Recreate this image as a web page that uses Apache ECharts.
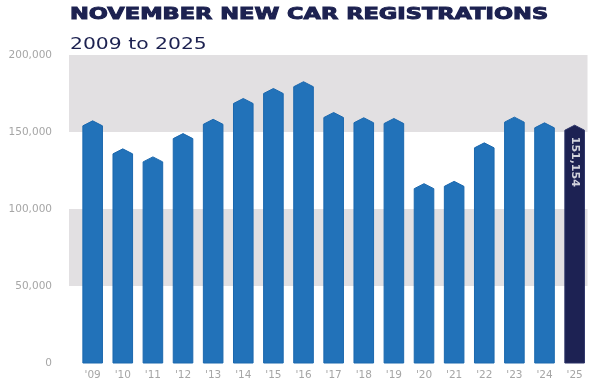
<!DOCTYPE html>
<html>
<head>
<meta charset="utf-8">
<script src="https://cdn.jsdelivr.net/npm/echarts@6/dist/echarts.min.js"></script>
<style>
html,body{margin:0;padding:0;background:#fff;}
#chart{width:600px;height:384px;}
</style>
</head>
<body>
<div id="chart"></div>
<script>
var titleText = 'NOVEMBER NEW CAR REGISTRATIONS';
var subtitleText = '2009 to 2025';
var categories = ["'09","'10","'11","'12","'13","'14","'15","'16","'17","'18","'19","'20","'21","'22","'23","'24","'25"];
var registrations = [154000,135800,130600,145700,155000,168500,175000,179400,159400,156000,155500,113200,114700,139700,156400,152700,151154];
var yMin = 0, yMax = 200000, yStep = 50000;

var chart = echarts.init(document.getElementById('chart'), null, {renderer:'canvas'});
var lastIdx = registrations.length - 1;

function renderBar(params, api) {
  var idx = params.dataIndex;
  var val = api.value(1);
  var top = api.coord([api.value(0), val]);
  var base = api.coord([api.value(0), 0]);
  var band = api.size([1, 0])[0];
  var w = band * 0.65;
  var x = top[0], y = top[1], y0 = base[1];
  var peak = 5;
  var last = idx === lastIdx;
  return {
    type: 'polygon',
    shape: {points: [[x - w/2, y0], [x - w/2, y], [x, y - peak], [x + w/2, y], [x + w/2, y0]]},
    style: {fill: last ? '#1d2253' : '#2272b9', stroke: last ? '#2a3166' : '#1b68ae', lineWidth: 1}
  };
}

var option = {
  backgroundColor: '#ffffff',
  animation: false,
  graphic: [
    {type: 'text', x: 70, y: 15, scaleX: 1.5, style: {text: titleText, font: 'bold 15px "DejaVu Sans"', fill: '#1c2150', stroke: '#1c2150', lineWidth: 0.9, textAlign: 'left', textVerticalAlign: 'middle'}},
    {type: 'text', x: 70, y: 45, scaleX: 1.27, style: {text: subtitleText, font: '16px "DejaVu Sans"', fill: '#1c2150', textAlign: 'left', textVerticalAlign: 'middle'}}
  ],
  grid: [
    {left: 69, right: 12.5, top: 55, bottom: 21},
    {left: 77.6, right: 10.3, top: 55, bottom: 21}
  ],
  xAxis: [
    {type: 'category', gridIndex: 0, data: categories, show: false},
    {type: 'category', gridIndex: 1, data: categories,
     axisLine: {show: false}, axisTick: {show: false},
     axisLabel: {color: '#a6a6a6', fontFamily: 'DejaVu Sans', fontSize: 10.5, margin: 7}}
  ],
  yAxis: [
    {type: 'value', gridIndex: 0, min: yMin, max: yMax, interval: yStep,
     axisLine: {show: false}, axisTick: {show: false}, splitLine: {show: false},
     splitArea: {show: true, areaStyle: {color: ['rgba(255,255,255,0)', '#e2e0e2']}},
     axisLabel: {color: '#a6a6a6', fontFamily: 'DejaVu Sans', fontSize: 10.5, margin: 17,
       formatter: function (v) { return v.toLocaleString('en-US'); }}},
    {type: 'value', gridIndex: 1, min: yMin, max: yMax, interval: yStep, show: false,
     splitLine: {show: false}}
  ],
  series: [{
    type: 'custom',
    xAxisIndex: 1, yAxisIndex: 1,
    renderItem: renderBar,
    data: registrations.map(function (v, i) { return [i, v]; })
  }, {
    type: 'scatter',
    xAxisIndex: 1, yAxisIndex: 1,
    symbolSize: 1,
    itemStyle: {color: 'rgba(0,0,0,0)'},
    silent: true,
    data: [[lastIdx, registrations[lastIdx]]],
    label: {
      show: true,
      position: [1, 7],
      rotate: -90,
      align: 'left',
      verticalAlign: 'middle',
      color: '#ffffff',
      fontFamily: 'DejaVu Sans',
      fontWeight: 'bold',
      fontSize: 11,
      formatter: function (p) { return p.value[1].toLocaleString('en-US'); }
    }
  }]
};
chart.setOption(option);
</script>
</body>
</html>
